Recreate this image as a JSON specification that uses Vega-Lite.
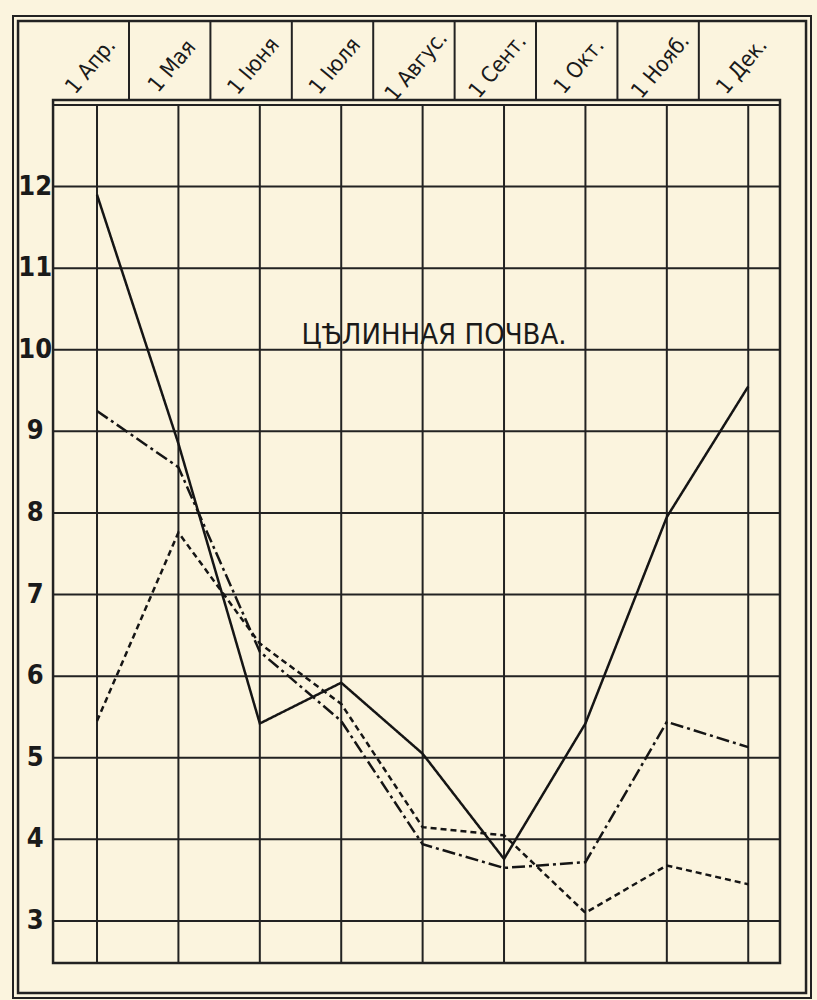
{
  "$schema": "https://vega.github.io/schema/vega-lite/v6.json",
  "width": 798,
  "height": 982,
  "autosize": {"type": "none"},
  "padding": {"left": 13, "top": 16, "right": 6, "bottom": 2},
  "background": "#fbf4de",
  "config": {"view": {"stroke": "#222", "strokeWidth": 2}},
  "datasets": {
    "months": [
      {"m": 0, "label": "1 Апр."},
      {"m": 1, "label": "1 Мая"},
      {"m": 2, "label": "1 Іюня"},
      {"m": 3, "label": "1 Іюля"},
      {"m": 4, "label": "1 Авгус."},
      {"m": 5, "label": "1 Сент."},
      {"m": 6, "label": "1 Окт."},
      {"m": 7, "label": "1 Нояб."},
      {"m": 8, "label": "1 Дек."}
    ],
    "ticks": [{"v": 3}, {"v": 4}, {"v": 5}, {"v": 6}, {"v": 7}, {"v": 8}, {"v": 9}, {"v": 10}, {"v": 11}, {"v": 12}],
    "series": [
      {"m": 0, "series": "solid", "value": 11.9},
      {"m": 1, "series": "solid", "value": 8.85},
      {"m": 2, "series": "solid", "value": 5.42},
      {"m": 3, "series": "solid", "value": 5.92},
      {"m": 4, "series": "solid", "value": 5.05},
      {"m": 5, "series": "solid", "value": 3.76},
      {"m": 6, "series": "solid", "value": 5.42},
      {"m": 7, "series": "solid", "value": 7.95},
      {"m": 8, "series": "solid", "value": 9.55},
      {"m": 0, "series": "dashdot", "value": 9.25},
      {"m": 1, "series": "dashdot", "value": 8.56},
      {"m": 2, "series": "dashdot", "value": 6.3},
      {"m": 3, "series": "dashdot", "value": 5.45},
      {"m": 4, "series": "dashdot", "value": 3.94},
      {"m": 5, "series": "dashdot", "value": 3.65},
      {"m": 6, "series": "dashdot", "value": 3.72},
      {"m": 7, "series": "dashdot", "value": 5.44},
      {"m": 8, "series": "dashdot", "value": 5.13},
      {"m": 0, "series": "dotted", "value": 5.45},
      {"m": 1, "series": "dotted", "value": 7.76},
      {"m": 2, "series": "dotted", "value": 6.4},
      {"m": 3, "series": "dotted", "value": 5.66},
      {"m": 4, "series": "dotted", "value": 4.15},
      {"m": 5, "series": "dotted", "value": 4.05},
      {"m": 6, "series": "dotted", "value": 3.1},
      {"m": 7, "series": "dotted", "value": 3.68},
      {"m": 8, "series": "dotted", "value": 3.45}
    ]
  },
  "layer": [
    {
      "data": {"values": [{}]},
      "mark": {"type": "rect", "fill": null, "fillOpacity": 0, "stroke": "#222", "strokeWidth": 2.5},
      "encoding": {
        "x": {"datum": -0.97, "type": "quantitative", "scale": {"domain": [-1.032, 8.771], "nice": false, "zero": false}, "axis": null},
        "x2": {"datum": 8.71},
        "y": {"datum": 2.118, "type": "quantitative", "scale": {"domain": [2.056, 14.09], "nice": false, "zero": false}, "axis": null},
        "y2": {"datum": 14.03}
      }
    },
    {
      "data": {"name": "months"},
      "transform": [{"filter": "datum.m < 8"}],
      "mark": {"type": "rule", "color": "#222", "strokeWidth": 2, "xOffset": 32},
      "encoding": {
        "x": {"field": "m", "type": "quantitative", "scale": {"domain": [-1.032, 8.771], "nice": false, "zero": false}, "axis": null},
        "y": {"datum": 13.06, "type": "quantitative", "scale": {"domain": [2.056, 14.09], "nice": false, "zero": false}, "axis": null},
        "y2": {"datum": 14.03}
      }
    },
    {
      "data": {"values": [{}]},
      "mark": {"type": "rect", "fill": "#fbf4de", "stroke": "#222", "strokeWidth": 2.5},
      "encoding": {
        "x": {"datum": -0.54, "type": "quantitative", "scale": {"domain": [-1.032, 8.771], "nice": false, "zero": false}, "axis": null},
        "x2": {"datum": 8.39},
        "y": {"datum": 2.485, "type": "quantitative", "scale": {"domain": [2.056, 14.09], "nice": false, "zero": false}, "axis": null},
        "y2": {"datum": 13.06}
      }
    },
    {
      "data": {"values": [{}]},
      "mark": {"type": "rule", "color": "#222", "strokeWidth": 2},
      "encoding": {
        "x": {"datum": -0.54, "type": "quantitative", "scale": {"domain": [-1.032, 8.771], "nice": false, "zero": false}, "axis": null},
        "x2": {"datum": 8.39},
        "y": {"datum": 13.0, "type": "quantitative", "scale": {"domain": [2.056, 14.09], "nice": false, "zero": false}, "axis": null}
      }
    },
    {
      "data": {"name": "months"},
      "mark": {"type": "rule", "color": "#222", "strokeWidth": 2},
      "encoding": {
        "x": {"field": "m", "type": "quantitative", "scale": {"domain": [-1.032, 8.771], "nice": false, "zero": false}, "axis": null},
        "y": {"datum": 2.485, "type": "quantitative", "scale": {"domain": [2.056, 14.09], "nice": false, "zero": false}, "axis": null},
        "y2": {"datum": 13.0}
      }
    },
    {
      "data": {"name": "ticks"},
      "mark": {"type": "rule", "color": "#222", "strokeWidth": 2},
      "encoding": {
        "x": {"datum": -0.54, "type": "quantitative", "scale": {"domain": [-1.032, 8.771], "nice": false, "zero": false}, "axis": null},
        "x2": {"datum": 8.39},
        "y": {"field": "v", "type": "quantitative", "scale": {"domain": [2.056, 14.09], "nice": false, "zero": false}, "axis": null}
      }
    },
    {
      "data": {"name": "series"},
      "mark": {"type": "line", "color": "#151515", "strokeWidth": 2.5},
      "encoding": {
        "x": {"field": "m", "type": "quantitative", "scale": {"domain": [-1.032, 8.771], "nice": false, "zero": false}, "axis": null},
        "y": {"field": "value", "type": "quantitative", "scale": {"domain": [2.056, 14.09], "nice": false, "zero": false}, "axis": null},
        "detail": {"field": "series"},
        "strokeDash": {"field": "series", "type": "nominal", "scale": {"domain": ["solid", "dashdot", "dotted"], "range": [[1, 0], [13, 4, 3, 4], [6, 4]]}, "legend": null}
      }
    },
    {
      "data": {"name": "ticks"},
      "mark": {"type": "text", "font": "DejaVu Sans Condensed, Roboto Condensed, Roboto, sans-serif", "fontWeight": "bold", "fontSize": 27, "color": "#1a1a1a", "align": "center", "baseline": "middle"},
      "encoding": {
        "x": {"datum": -0.76, "type": "quantitative", "scale": {"domain": [-1.032, 8.771], "nice": false, "zero": false}, "axis": null},
        "y": {"field": "v", "type": "quantitative", "scale": {"domain": [2.056, 14.09], "nice": false, "zero": false}, "axis": null},
        "text": {"field": "v", "type": "quantitative"}
      }
    },
    {
      "data": {"name": "months"},
      "mark": {"type": "text", "font": "DejaVu Sans Condensed, Roboto Condensed, Roboto, sans-serif", "fontSize": 22, "color": "#1a1a1a", "align": "center", "baseline": "middle", "angle": 310, "dx": -10},
      "encoding": {
        "x": {"field": "m", "type": "quantitative", "scale": {"domain": [-1.032, 8.771], "nice": false, "zero": false}, "axis": null},
        "y": {"datum": 13.57, "type": "quantitative", "scale": {"domain": [2.056, 14.09], "nice": false, "zero": false}, "axis": null},
        "text": {"field": "label"}
      }
    },
    {
      "data": {"values": [{"title": "ЦѢЛИННАЯ ПОЧВА."}]},
      "mark": {"type": "text", "font": "DejaVu Sans Condensed, Roboto Condensed, Roboto, sans-serif", "fontSize": 29, "color": "#1a1a1a", "align": "center", "baseline": "alphabetic"},
      "encoding": {
        "x": {"datum": 4.14, "type": "quantitative", "scale": {"domain": [-1.032, 8.771], "nice": false, "zero": false}, "axis": null},
        "y": {"datum": 10.07, "type": "quantitative", "scale": {"domain": [2.056, 14.09], "nice": false, "zero": false}, "axis": null},
        "text": {"field": "title"}
      }
    }
  ]
}
